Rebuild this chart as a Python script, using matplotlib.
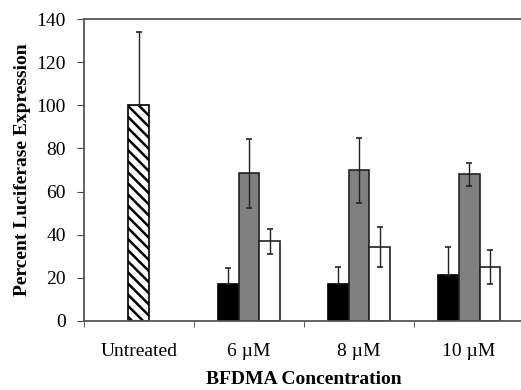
import matplotlib.pyplot as plt
import numpy as np

plt.rcParams['font.family'] = ['Liberation Serif', 'DejaVu Serif']
plt.rcParams['hatch.linewidth'] = 1.8

categories = ["Untreated", "6 \u00b5M", "8 \u00b5M", "10 \u00b5M"]
untreated_val = [100]
untreated_err = [34]
black_vals = [17.2, 17.2, 21.5]
black_err = [7.5, 8.0, 13.0]
gray_vals = [68.6, 69.9, 68.0]
gray_err = [16.0, 15.0, 5.3]
white_vals = [37.0, 34.4, 25.0]
white_err = [5.8, 9.3, 8.0]

fig = plt.figure(figsize=(5.21, 3.90), dpi=100)
ax = fig.add_axes([0.161, 0.177, 0.845, 0.774])

w = 0.19
x = np.arange(len(categories))
xt = x[1:]
ekw = dict(ecolor='#222222', elinewidth=1.0, capsize=2.5, capthick=1.2)

# lower whisker of the hatched bar is hidden behind the hatch in the original
ax.bar(x[:1], untreated_val, w, yerr=[[0], untreated_err], color='white', edgecolor='black',
       hatch='\\\\\\', linewidth=1.2, error_kw=ekw)
ax.bar(xt - w, black_vals, w, yerr=[[0] * 3, black_err], color='black', edgecolor='black',
       linewidth=1.2, error_kw=ekw)
ax.bar(xt, gray_vals, w, yerr=gray_err, color='#808080', edgecolor='#222222',
       linewidth=1.2, error_kw=ekw)
ax.bar(xt + w, white_vals, w, yerr=white_err, color='white', edgecolor='#222222',
       linewidth=1.2, error_kw=ekw)

ax.set_xlim(-0.5, len(categories) - 0.5)
ax.set_ylim(0, 140)
ax.set_yticks(np.arange(0, 141, 20))
ax.set_xticks(x)
ax.set_xticklabels(categories)
ax.set_xticks(np.arange(-0.5, len(categories), 1), minor=True)
ax.tick_params(axis='x', which='major', length=0, pad=16, labelsize=14)
ax.tick_params(axis='x', which='minor', length=4, direction='out', color='#444444')
ax.tick_params(axis='y', length=5, direction='out', labelsize=14, color='#444444', pad=8)

for side in ['left', 'bottom', 'top']:
    ax.spines[side].set_color('#555555')
    ax.spines[side].set_linewidth(1.3)
ax.spines['right'].set_visible(False)

ax.set_ylabel('Percent Luciferase Expression', fontsize=14, fontweight='bold', labelpad=4)
ax.set_xlabel('BFDMA Concentration', fontsize=14, fontweight='bold', labelpad=8)

fig.savefig('out.png', dpi=100)
